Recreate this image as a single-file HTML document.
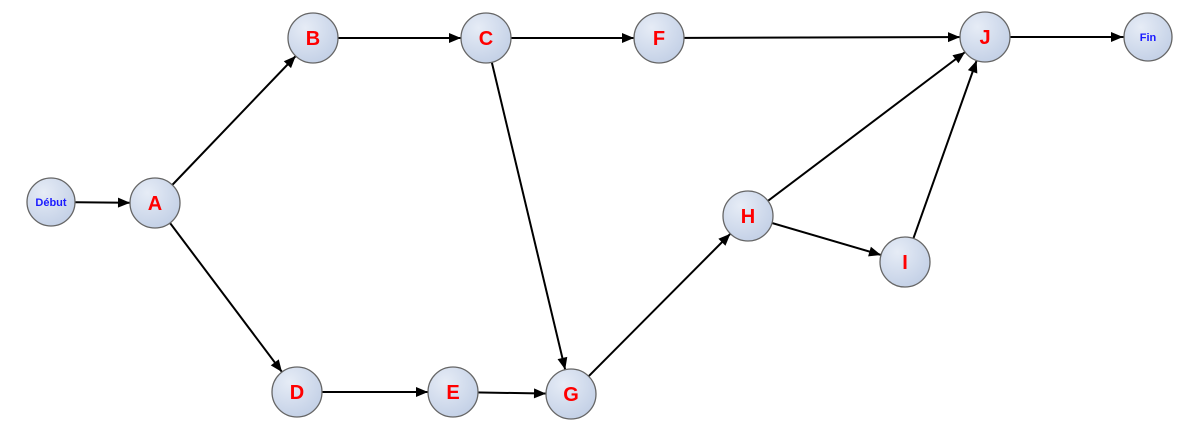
<!DOCTYPE html>
<html><head><meta charset="utf-8"><style>
html,body{margin:0;padding:0;background:#fff;width:1200px;height:428px;overflow:hidden}
</style></head><body>
<svg width="1200" height="428" viewBox="0 0 1200 428" xmlns="http://www.w3.org/2000/svg">
<defs>
<radialGradient id="g" cx="35%" cy="30%" r="75%">
<stop offset="0" stop-color="#e6ecf6"/><stop offset="1" stop-color="#c3d0e6"/>
</radialGradient>
<marker id="m" markerUnits="userSpaceOnUse" markerWidth="60" markerHeight="20" refX="37" refY="5" orient="auto" style="overflow:visible">
<path d="M0,0 L12,5 L0,10 z" fill="#000"/>
</marker>
</defs>
<g stroke="#000" stroke-width="2" marker-end="url(#m)">
<line x1="51" y1="202" x2="155" y2="203"/>
<line x1="155" y1="203" x2="313" y2="38"/>
<line x1="155" y1="203" x2="297" y2="392"/>
<line x1="313" y1="38" x2="486" y2="38"/>
<line x1="486" y1="38" x2="659" y2="38"/>
<line x1="486" y1="38" x2="571" y2="394"/>
<line x1="659" y1="38" x2="985" y2="37"/>
<line x1="985" y1="37" x2="1148" y2="37"/>
<line x1="297" y1="392" x2="453" y2="392"/>
<line x1="453" y1="392" x2="571" y2="394"/>
<line x1="571" y1="394" x2="748" y2="216"/>
<line x1="748" y1="216" x2="985" y2="37"/>
<line x1="748" y1="216" x2="905" y2="262"/>
<line x1="905" y1="262" x2="985" y2="37"/>
</g>
<g fill="url(#g)" stroke="#666" stroke-width="1.3">
<circle cx="51" cy="202" r="24"/><circle cx="155" cy="203" r="25"/>
<circle cx="313" cy="38" r="25"/><circle cx="486" cy="38" r="25"/>
<circle cx="659" cy="38" r="25"/><circle cx="985" cy="37" r="25"/>
<circle cx="1148" cy="37" r="24"/><circle cx="748" cy="216" r="25"/>
<circle cx="905" cy="262" r="25"/><circle cx="297" cy="392" r="25"/>
<circle cx="453" cy="392" r="25"/><circle cx="571" cy="394" r="25"/>
</g>
<g font-family="Liberation Sans, sans-serif" font-weight="bold" text-anchor="middle">
<g fill="#1a1aff" font-size="11">
<text x="51" y="206">Début</text><text x="1148" y="41">Fin</text>
</g>
<g fill="#ff0000" font-size="20">
<text x="155" y="210">A</text><text x="313" y="45">B</text><text x="486" y="45">C</text>
<text x="659" y="45">F</text><text x="985" y="44">J</text><text x="748" y="223">H</text>
<text x="905" y="269">I</text><text x="297" y="399">D</text><text x="453" y="399">E</text>
<text x="571" y="401">G</text>
</g>
</g>
</svg>
</body></html>
